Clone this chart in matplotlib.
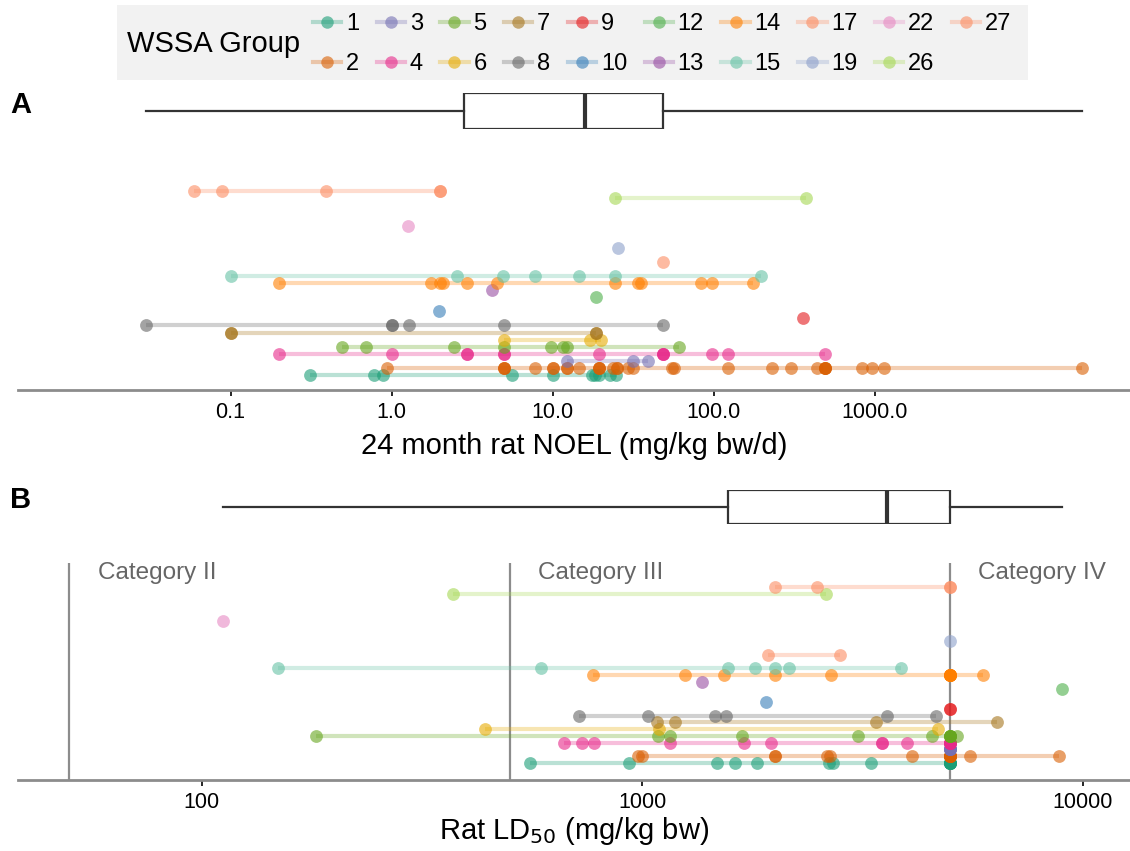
import numpy as np
import matplotlib
matplotlib.use("Agg")
import matplotlib.pyplot as plt
from matplotlib import cbook
from matplotlib.lines import Line2D
from matplotlib.patches import Rectangle

plt.rcParams['font.family'] = ['Liberation Sans', 'DejaVu Sans']

# WSSA groups and their colours
groups = [1, 2, 3, 4, 5, 6, 7, 8, 9, 10, 12, 13, 14, 15, 17, 19, 22, 26, 27]
colors = ["#1b9e77", "#d95f02", "#7570b3", "#e7298a", "#66a61e", "#e6ab02", "#a6761d",
          "#666666", "#e41a1c", "#377eb8", "#4daf4a", "#984ea3", "#ff7f00", "#66c2a5",
          "#fc8d62", "#8da0cb", "#e78ac3", "#a6d854", "#fc8d62"]

# 24 month rat NOEL (mg/kg bw/d), one list per group (repeats = stacked points)
noel = [
    [0.31, 0.78, 0.89, 5.6, 10, 17.5, 18.3, 19.5, 22.7, 24.8],
    [0.93, 5, 5, 5, 7.8, 10, 10, 12.2, 12.2, 14.6, 19.5, 19.5, 19.5, 23.8, 25, 25, 29.5,
     31.7, 55, 57, 122, 231, 302, 440, 492, 492, 492, 492, 830, 970, 1140, 19500],
    [12.2, 31.7, 39.3],
    [0.2, 1.0, 2.93, 2.93, 5, 5, 19.5, 48.7, 48.7, 48.7, 98, 122, 492],
    [0.49, 0.69, 2.44, 5, 9.8, 11.6, 12.3, 61],
    [5, 17.1, 19.9],
    [0.1, 0.1, 18.6, 18.6],
    [0.03, 1.0, 1.0, 1.28, 5, 48.7],
    [357],
    [1.96],
    [18.6],
    [4.2],
    [0.2, 1.76, 2.0, 2.1, 2.93, 4.5, 24.4, 34.1, 35.4, 84, 98, 176],
    [0.1, 2.55, 4.92, 7.8, 14.6, 24.4, 197],
    [48.5],
    [25.5],
    [1.26],
    [24.4, 375],
    [0.059, 0.088, 0.39, 2.0, 2.0],
]

# Rat LD50 (mg/kg bw), one list per group (many "> 5000" entries stack at 5000)
ld50 = [
    [556, 933, 1476, 1627, 1823, 2660, 2706, 3302, 5000, 5000, 5000, 5000, 5000, 5000, 5000],
    [980, 1000, 2000, 2000, 2630, 2670, 4100, 5000, 5000, 5000, 5000, 5000, 5000, 5000,
     5000, 5550, 8850],
    [5000, 5000, 5000, 5000, 5000, 5000],
    [664, 731, 778, 1156, 1706, 1958, 3500, 3500, 4000, 5000, 5000, 5000, 5000, 5000, 5000],
    [182, 1088, 1156, 1688, 3085, 4540, 5000, 5000, 5000, 5000, 5000, 5180],
    [439, 1094, 4690],
    [1080, 1190, 3400, 6400],
    [718, 1033, 1464, 1549, 3600, 4650],
    [5000, 5000],
    [1907],
    [8990],
    [1367],
    [774, 1250, 1536, 2000, 2680, 5000, 5000, 5000, 5000, 5000, 5000, 5000, 5950],
    [149, 588, 1563, 1800, 2000, 2150, 3870],
    [1930, 2820],
    [5000],
    [112],
    [371, 2610],
    [2000, 2500, 5000, 5000],
]

noel_ticks = [0.1, 1, 10, 100, 1000]
noel_ticklabels = ["0.1", "1.0", "10.0", "100.0", "1000.0"]
ld50_ticks = [100, 1000, 10000]
ld50_ticklabels = ["100", "1000", "10000"]
cat_bounds = [50, 500, 5000]
cat_labels = ["Category II", "Category III", "Category IV"]
cat_label_x = [58, 580, 5800]

W, H = 1130, 851
fig = plt.figure(figsize=(W / 100, H / 100), dpi=100)


def rect(x0, y0, x1, y1):
    return [x0 / W, 1 - y1 / H, (x1 - x0) / W, (y1 - y0) / H]


def draw_box(ax, data, xlim):
    logs = np.log10(np.concatenate([np.asarray(v, float) for v in data]))
    st = cbook.boxplot_stats(logs, whis=(0, 100))[0]
    for k in ("med", "q1", "q3", "whislo", "whishi"):
        st[k] = 10 ** st[k]
    st["fliers"] = []
    ax.set_xscale("log")
    ax.bxp([st], positions=[0], widths=1, orientation="horizontal", showcaps=False,
           showfliers=False, patch_artist=True,
           boxprops=dict(facecolor="white", edgecolor="#333333", linewidth=1.6),
           whiskerprops=dict(color="#333333", linewidth=1.6),
           medianprops=dict(color="#333333", linewidth=3))
    ax.set_xlim(*xlim)
    ax.set_ylim(-0.5, 0.5)
    ax.axis("off")


def draw_strip(ax, data, xlim, ylim, ticks, ticklabels, xlabel, pad):
    ax.set_xscale("log")
    for g, vals, c in zip(groups, data, colors):
        if len(vals) > 1:
            ax.plot([min(vals), max(vals)], [g, g], color=c, lw=3, alpha=0.3,
                    solid_capstyle="butt", zorder=2)
    for g, vals, c in zip(groups, data, colors):
        ax.scatter(vals, [g] * len(vals), s=85, color=c, alpha=0.6, lw=0, zorder=3)
    ax.set_xlim(*xlim)
    ax.set_ylim(*ylim)
    for s in ("top", "left", "right"):
        ax.spines[s].set_visible(False)
    ax.spines["bottom"].set_color("#8c8c8c")
    ax.spines["bottom"].set_linewidth(2)
    ax.set_yticks([])
    ax.set_xticks(ticks)
    ax.set_xticklabels(ticklabels)
    ax.minorticks_off()
    ax.tick_params(axis="x", length=4, width=1.2, color="black", labelsize=15.5, pad=5)
    ax.set_xlabel(xlabel, fontsize=21, labelpad=pad)


limA = (10 ** -2.3205, 10 ** 4.5863)
limB = (10 ** 1.5827, 10 ** 4.1076)

# panel A
axbA = fig.add_axes(rect(18, 93, 1130, 129))
draw_box(axbA, noel, limA)
axA = fig.add_axes(rect(18, 150, 1130, 390))
draw_strip(axA, noel, limA, (-1.12, 32.8), noel_ticks, noel_ticklabels,
           "24 month rat NOEL (mg/kg bw/d)", 6)

# panel B
axbB = fig.add_axes(rect(18, 490, 1130, 524))
draw_box(axbB, ld50, limB)
axB = fig.add_axes(rect(18, 563, 1130, 780))
draw_strip(axB, ld50, limB, (-1.51, 30.55), ld50_ticks, ld50_ticklabels,
           "Rat LD$_{50}$ (mg/kg bw)", 1)
for b in cat_bounds:
    axB.axvline(b, color="#8c8c8c", lw=1.6, zorder=1)
for x, t in zip(cat_label_x, cat_labels):
    axB.text(x, 29.0, t, fontsize=17.5, color="#666666", ha="left", va="center")

fig.text(10 / W, 1 - 105 / H, "A", fontsize=21, fontweight="bold", va="center")
fig.text(10 / W, 1 - 500 / H, "B", fontsize=21, fontweight="bold", va="center")

# legend
fig.add_artist(Rectangle((117 / W, 1 - 80 / H), 911 / W, 75 / H, transform=fig.transFigure,
                         facecolor="#f2f2f2", edgecolor="none", zorder=0))
fig.text(127 / W, 1 - 44 / H, "WSSA Group", fontsize=21, va="center")
handles = [(Line2D([], [], color=c, lw=3, alpha=0.3),
            Line2D([], [], color=c, marker="o", ls="", ms=9, mew=0, alpha=0.6))
           for c in colors]
fig.legend(handles, [str(g) for g in groups], ncol=10, loc="center left",
           bbox_to_anchor=(313 / W, 1 - 44 / H), frameon=False, fontsize=17,
           handlelength=1.2, handletextpad=0.2, columnspacing=0.74, labelspacing=0.75,
           borderpad=0, borderaxespad=0)

fig.savefig("out.png", dpi=100)
